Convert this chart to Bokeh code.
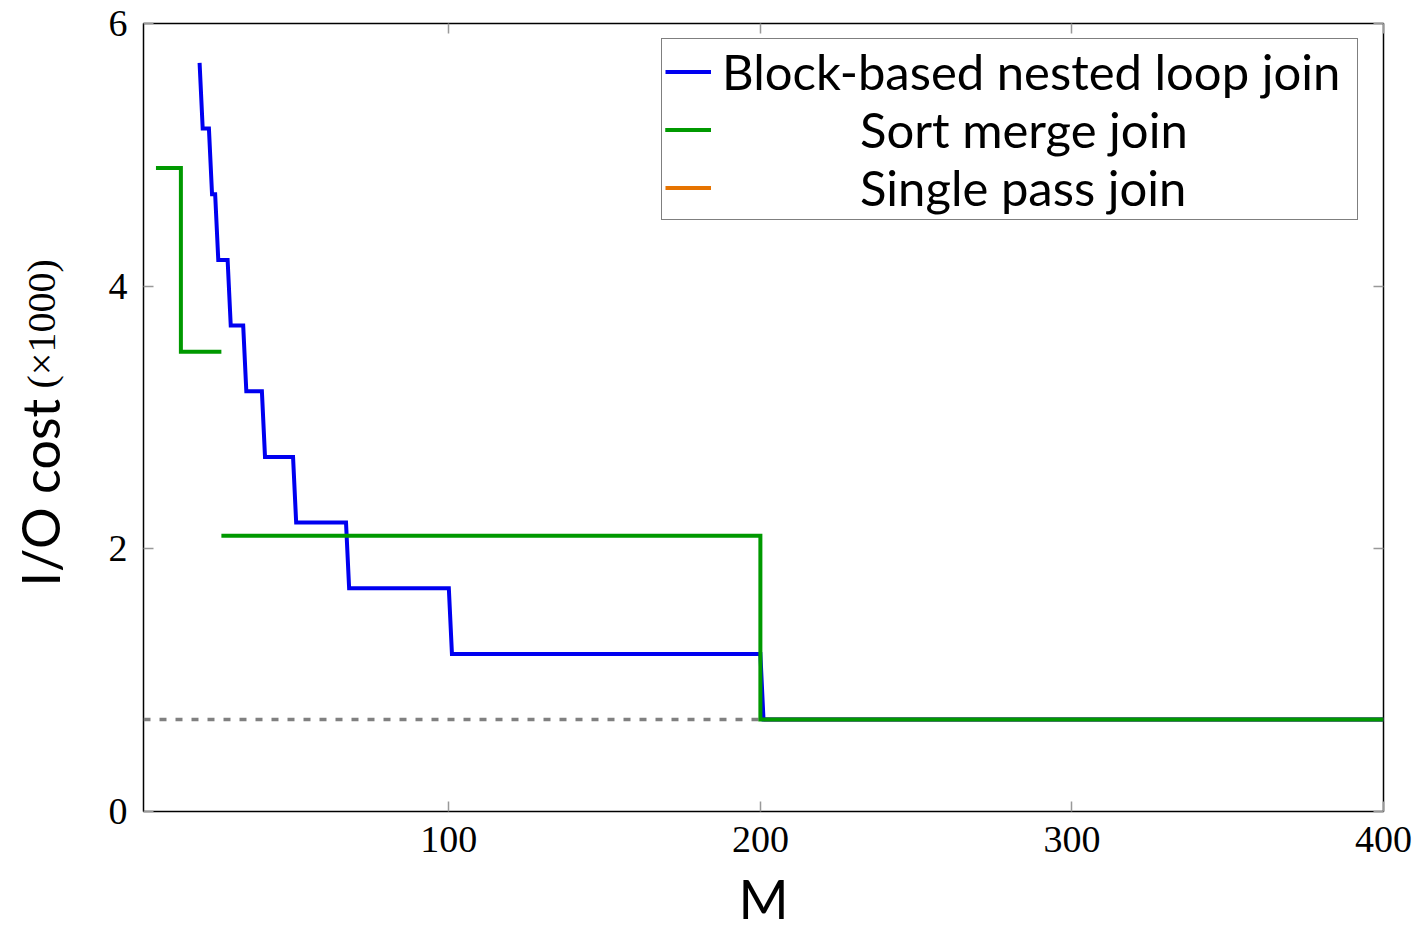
from bokeh.plotting import figure
from bokeh.models import Range1d, FixedTicker, LinearAxis, Legend, LegendItem, Label
from bokeh.layouts import row
from bokeh.embed import file_html
from bokeh.resources import INLINE
import math

# ---- data ----
x_ticks = [100, 200, 300, 400]
y_ticks = [0, 2, 4, 6]

blue_m = [20, 21, 23, 24, 25, 26, 29, 30, 34, 35, 40, 41, 50, 51, 67, 68, 100, 101, 200, 201, 400]
blue_cost = [5.7, 5.2, 5.2, 4.7, 4.7, 4.2, 4.2, 3.7, 3.7, 3.2, 3.2, 2.7, 2.7, 2.2, 2.2, 1.7, 1.7,
             1.2, 1.2, 0.7, 0.7]

green_m_a = [6, 14, 14, 27]
green_cost_a = [4.9, 4.9, 3.5, 3.5]
green_m_b = [27, 200, 200, 400]
green_cost_b = [2.1, 2.1, 0.7, 0.7]

orange_m = [201, 400]
orange_cost = [0.7, 0.7]

base_m = [2, 200]
base_cost = [0.7, 0.7]

labels = ["Block-based nested loop join", "Sort merge join", "Single pass join"]
y_label_main = "I/O cost"
y_label_unit = "(×1000)"
x_label = "M"

BLUE = "#0000f0"
GREEN = "#009900"
ORANGE = "#e67300"
SANS = "Lato"
SERIF = "Liberation Serif"

# ---- narrow strip on the left that carries the two-font y-axis title ----
side = figure(frame_width=73, frame_height=929, min_border=0,
              x_range=Range1d(0, 73), y_range=Range1d(0, 929),
              x_axis_location=None, y_axis_location=None,
              output_backend="svg", toolbar_location=None)
side.outline_line_color = None
side.xgrid.visible = False
side.ygrid.visible = False
side.border_fill_color = "white"
side.add_layout(Label(x=39, y=366, x_units="screen", y_units="screen", text=y_label_main,
                      angle=math.pi / 2, text_font=SANS, text_font_size="52px",
                      text_align="left", text_baseline="alphabetic", text_color="black"))
side.add_layout(Label(x=41, y=564, x_units="screen", y_units="screen", text=y_label_unit,
                      angle=math.pi / 2, text_font=SERIF, text_font_size="40px",
                      text_align="left", text_baseline="alphabetic", text_color="black"))

# ---- main plot ----
p = figure(frame_width=1240, frame_height=788,
           min_border_left=70, min_border_right=33, min_border_top=23, min_border_bottom=118,
           x_range=Range1d(2, 400), y_range=Range1d(0, 6),
           output_backend="svg", toolbar_location=None)
p.background_fill_color = "white"
p.border_fill_color = "white"
p.outline_line_color = "black"
p.outline_line_width = 1.5
p.xgrid.visible = False
p.ygrid.visible = False

for ax, ticks in ((p.xaxis[0], x_ticks), (p.yaxis[0], y_ticks)):
    ax.ticker = FixedTicker(ticks=ticks)
    ax.axis_line_color = None
    ax.major_tick_in = 10
    ax.major_tick_out = 0
    ax.major_tick_line_color = "#999999"
    ax.major_tick_line_width = 1.5
    ax.minor_tick_line_color = None
    ax.major_label_text_font = SERIF
    ax.major_label_text_font_size = "38px"
    ax.major_label_text_color = "black"

p.xaxis[0].major_label_standoff = 15
p.yaxis[0].major_label_standoff = 16
p.xaxis[0].axis_label = x_label
p.xaxis[0].axis_label_text_font = SANS
p.xaxis[0].axis_label_text_font_size = "54px"
p.xaxis[0].axis_label_text_font_style = "normal"
p.xaxis[0].axis_label_text_color = "black"
p.xaxis[0].axis_label_standoff = 11

# mirrored ticks on top and right (no labels drawn)
for loc, ticks in (("above", x_ticks), ("right", y_ticks)):
    ax = LinearAxis(ticker=FixedTicker(ticks=ticks), axis_line_color=None,
                    major_tick_in=10, major_tick_out=0, major_tick_line_color="#999999",
                    major_tick_line_width=1.5, minor_tick_line_color=None,
                    major_label_text_color=None, major_label_text_font_size="1px",
                    major_label_standoff=0)
    p.add_layout(ax, loc)

# series
p.line(base_m, base_cost, line_color="#808080", line_width=3.5, line_dash="7 9")
r_orange = p.line(orange_m, orange_cost, line_color=ORANGE, line_width=4, line_join="miter")
r_blue = p.line(blue_m, blue_cost, line_color=BLUE, line_width=4, line_join="miter")
r_green_a = p.line(green_m_a, green_cost_a, line_color=GREEN, line_width=4, line_join="miter")
r_green_b = p.line(green_m_b, green_cost_b, line_color=GREEN, line_width=4, line_join="miter")

pad = "\u00a0" * 11
legend = Legend(items=[
    LegendItem(label=labels[0], renderers=[r_blue]),
    LegendItem(label=pad + labels[1], renderers=[r_green_a, r_green_b]),
    LegendItem(label=pad + labels[2], renderers=[r_orange]),
], location=(518, 591))
legend.label_text_font = SANS
legend.label_text_font_size = "49px"
legend.label_text_color = "black"
legend.label_height = 57
legend.glyph_height = 57
legend.glyph_width = 46
legend.label_standoff = 11
legend.label_width = 632
legend.spacing = 0
legend.padding = 3
legend.margin = 0
legend.border_line_color = "black"
legend.border_line_width = 1.5
legend.background_fill_alpha = 1
p.add_layout(legend, "center")

layout = row(side, p, spacing=0)
open("out.html", "w").write(file_html(layout, INLINE))
